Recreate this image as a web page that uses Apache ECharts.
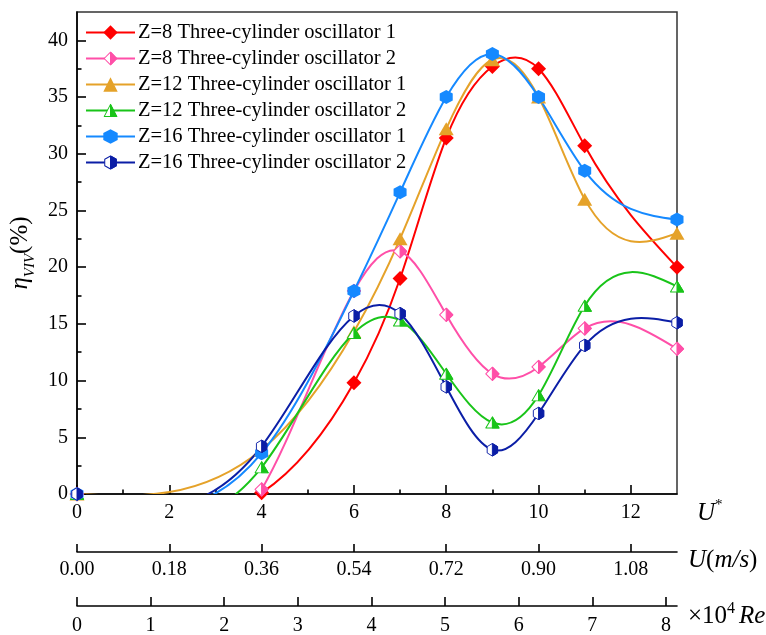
<!DOCTYPE html>
<html>
<head>
<meta charset="utf-8">
<script src="https://cdn.jsdelivr.net/npm/echarts@6/dist/echarts.min.js"></script>
<style>
html,body{margin:0;padding:0;background:#fff;}
#chart{width:766px;height:635px;}
</style>
</head>
<body>
<div id="chart"></div>
<script>
// ---- data ----
const uStar = [0, 4, 6, 7, 8, 9, 10, 11, 13];
const z8Osc1  = [0, 0.1, 9.8, 19.0, 31.4, 37.7, 37.5, 30.7, 20.0];
const z8Osc2  = [0, 0.4, 17.9, 21.4, 15.8, 10.6, 11.2, 14.6, 12.8];
const z12Osc1 = [0, 3.9, 14.3, 22.5, 32.2, 38.3, 35.0, 26.0, 23.0];
const z12Osc2 = [0, 2.35, 14.2, 15.3, 10.6, 6.3, 8.7, 16.6, 18.3];
const z16Osc1 = [0, 3.6, 17.9, 26.6, 35.0, 38.8, 35.0, 28.5, 24.2];
const z16Osc2 = [0, 4.2, 15.7, 15.9, 9.45, 3.9, 7.1, 13.1, 15.1];
const seriesNames = [
  'Z=8 Three-cylinder oscillator 1',
  'Z=8 Three-cylinder oscillator 2',
  'Z=12 Three-cylinder oscillator 1',
  'Z=12 Three-cylinder oscillator 2',
  'Z=16 Three-cylinder oscillator 1',
  'Z=16 Three-cylinder oscillator 2'
];
// ---- ticks ----
const uStarTicks = [0, 2, 4, 6, 8, 10, 12];
const uStarMinor = [1, 3, 5, 7, 9, 11];
const uTicks = [0, 0.18, 0.36, 0.54, 0.72, 0.90, 1.08];
const reTicks = [0, 1, 2, 3, 4, 5, 6, 7, 8];
const yTicks = [0, 5, 10, 15, 20, 25, 30, 35, 40];
const yMinor = [2.5, 7.5, 12.5, 17.5, 22.5, 27.5, 32.5, 37.5];

const FONT = '"Liberation Serif","Times New Roman",serif';
const colors = ['#FF0000', '#FF4FA8', '#E5A229', '#19C419', '#1589FF', '#0B1EA6'];

function svgSym(outer, half, c) {
  const svg = "<svg xmlns='http://www.w3.org/2000/svg' width='40' height='40' viewBox='0 0 20 20' preserveAspectRatio='none'>" +
    "<path d='" + outer + "' fill='white' stroke='" + c + "' stroke-width='1.4' stroke-linejoin='round'/>" +
    "<path d='" + half + "' fill='" + c + "' stroke='" + c + "' stroke-width='1.4' stroke-linejoin='round'/></svg>";
  return 'image://data:image/svg+xml;charset=utf-8,' + encodeURIComponent(svg);
}
const diamondO = 'M10 1.2 L18.8 10 L10 18.8 L1.2 10 Z', diamondH = 'M10 1.2 L18.8 10 L10 18.8 Z';
const triO = 'M10 1.5 L18.8 18.5 L1.2 18.5 Z', triH = 'M10 1.5 L18.8 18.5 L10 18.5 Z';
const hexO = 'M10 1 L18 5.5 L18 14.5 L10 19 L2 14.5 L2 5.5 Z', hexH = 'M10 1 L18 5.5 L18 14.5 L10 19 Z';

const symbols = [
  'diamond',
  svgSym(diamondO, diamondH, colors[1]),
  'triangle',
  svgSym(triO, triH, colors[3]),
  'path://' + hexO,
  svgSym(hexO, hexH, colors[5])
];
const symSizes = [[15, 15], [15, 15], [15, 13], [15, 13], [13, 14], [13, 14]];
const values = [z8Osc1, z8Osc2, z12Osc1, z12Osc2, z16Osc1, z16Osc2];

// natural cubic spline: second derivatives at knots (used only to shape the connecting curve)
function splineSecondDerivs(xs, ys) {
  const n = xs.length, h = [], M = new Array(n).fill(0);
  for (let i = 0; i < n - 1; i++) h.push(xs[i + 1] - xs[i]);
  const a = [], b = [], c = [], d = [];
  for (let i = 1; i < n - 1; i++) {
    a.push(h[i - 1]); b.push(2 * (h[i - 1] + h[i])); c.push(h[i]);
    d.push(6 * ((ys[i + 1] - ys[i]) / h[i] - (ys[i] - ys[i - 1]) / h[i - 1]));
  }
  const m = b.length;
  for (let i = 1; i < m; i++) {
    const w = a[i] / b[i - 1];
    b[i] -= w * c[i - 1]; d[i] -= w * d[i - 1];
  }
  const sol = new Array(m);
  for (let i = m - 1; i >= 0; i--) sol[i] = (d[i] - (i < m - 1 ? c[i] * sol[i + 1] : 0)) / b[i];
  for (let i = 0; i < m; i++) M[i + 1] = sol[i];
  return { h, M };
}

function curvePath(api, xs, ys) {
  const { h, M } = splineSecondDerivs(xs, ys);
  const p0 = api.coord([xs[0], ys[0]]);
  let path = 'M' + p0[0] + ' ' + p0[1];
  for (let i = 0; i < xs.length - 1; i++) {
    const hi = h[i];
    const slope = (ys[i + 1] - ys[i]) / hi;
    const dL = slope - hi * (2 * M[i] + M[i + 1]) / 6;
    const dR = slope + hi * (M[i] + 2 * M[i + 1]) / 6;
    const c1 = api.coord([xs[i] + hi / 3, ys[i] + dL * hi / 3]);
    const c2 = api.coord([xs[i + 1] - hi / 3, ys[i + 1] - dR * hi / 3]);
    const e = api.coord([xs[i + 1], ys[i + 1]]);
    path += ' C' + c1[0] + ' ' + c1[1] + ' ' + c2[0] + ' ' + c2[1] + ' ' + e[0] + ' ' + e[1];
  }
  return path;
}

const curveSeries = values.map((vals, i) => ({
  name: seriesNames[i] + ' (curve)',
  type: 'custom',
  xAxisIndex: 0,
  yAxisIndex: 0,
  clip: true,
  z: 2,
  silent: true,
  data: uStar.map((x, k) => [x, vals[k]]),
  encode: { x: 0, y: 1 },
  renderItem: function (params, api) {
    if (params.dataIndex !== 0) return null;
    return {
      type: 'path',
      shape: { pathData: curvePath(api, uStar, vals) },
      style: { stroke: colors[i], lineWidth: 2, fill: null }
    };
  }
}));

const markerSeries = values.map((vals, i) => ({
  name: seriesNames[i],
  type: 'line',
  xAxisIndex: 0,
  yAxisIndex: 0,
  z: 3 + i * 0.01,
  data: uStar.map((x, k) => [x, vals[k]]),
  symbol: symbols[i],
  symbolSize: symSizes[i],
  showAllSymbol: true,
  clip: true,
  lineStyle: { color: colors[i], width: 2, opacity: 0 },
  itemStyle: { color: colors[i], borderWidth: 0 },
  emphasis: { disabled: true }
}));

const axisLineStyle = { color: '#000', width: 1.6 };
const labelStyle = { color: '#000', fontFamily: FONT, fontSize: 20 };

const chart = echarts.init(document.getElementById('chart'), null, { renderer: 'canvas' });
chart.setOption({
  animation: false,
  backgroundColor: '#fff',
  grid: {
    left: 77, top: 12, right: 89, bottom: 141,
    show: true, borderColor: '#333', borderWidth: 1.5,
    containLabel: false, outerBoundsMode: 'none'
  },
  legend: {
    orient: 'vertical',
    left: 85, top: 22,
    padding: 0,
    itemWidth: 49, itemHeight: 18, itemGap: 5,
    textStyle: { color: '#000', fontFamily: FONT, fontSize: 20.5, lineHeight: 20, padding: [0, 0, 0, -2] },
    data: seriesNames.map((n, i) => ({ name: n, lineStyle: { color: colors[i], width: 2, opacity: 1 } }))
  },
  xAxis: [
    {
      type: 'value', min: 0, max: 13, position: 'bottom',
      axisLine: { show: true, onZero: false, lineStyle: axisLineStyle },
      axisTick: { show: true, inside: true, length: 9, lineStyle: axisLineStyle, customValues: uStarTicks },
      axisLabel: { ...labelStyle, margin: 9, customValues: uStarTicks },
      splitLine: { show: false },
      name: '{i|U}{sup|*}',
      nameLocation: 'end', nameGap: 20,
      nameTextStyle: {
        padding: [38, 0, 0, 0],
        rich: {
          i: { fontFamily: FONT, fontStyle: 'italic', fontSize: 25, lineHeight: 30, color: '#000' },
          sup: { fontFamily: FONT, fontSize: 15, lineHeight: 15, verticalAlign: 'top', color: '#000' }
        }
      }
    },
    {
      type: 'value', min: 0, max: 13, position: 'bottom',
      axisLine: { show: false },
      axisTick: { show: true, inside: true, length: 4.5, lineStyle: axisLineStyle, customValues: uStarMinor },
      axisLabel: { show: false },
      splitLine: { show: false }
    },
    {
      type: 'value', min: 0, max: 1.17, position: 'bottom', offset: 58,
      axisLine: { show: true, onZero: false, lineStyle: axisLineStyle },
      axisTick: { show: true, inside: true, length: 8, lineStyle: axisLineStyle, customValues: uTicks },
      axisLabel: { ...labelStyle, margin: 8, customValues: uTicks, formatter: v => v.toFixed(2) },
      splitLine: { show: false },
      name: '{i|U}{n|(}{i|m/s}{n|)}',
      nameLocation: 'end', nameGap: 11,
      nameTextStyle: {
        padding: [16, 0, 0, 0],
        rich: {
          i: { fontFamily: FONT, fontStyle: 'italic', fontSize: 25, lineHeight: 30, color: '#000' },
          n: { fontFamily: FONT, fontSize: 25, lineHeight: 30, color: '#000' }
        }
      }
    },
    {
      type: 'value', min: 0, max: 8.15, position: 'bottom', offset: 112,
      axisLine: { show: true, onZero: false, lineStyle: axisLineStyle },
      axisTick: { show: true, inside: true, length: 9, lineStyle: axisLineStyle, customValues: reTicks },
      axisLabel: { ...labelStyle, margin: 10, customValues: reTicks },
      splitLine: { show: false },
      name: '{n|×10}{sup|4}{i|Re}',
      nameLocation: 'end', nameGap: 11,
      nameTextStyle: {
        padding: [20, 0, 0, 0],
        rich: {
          n: { fontFamily: FONT, fontSize: 25, lineHeight: 30, color: '#000' },
          sup: { fontFamily: FONT, fontSize: 16, lineHeight: 16, verticalAlign: 'top', color: '#000', padding: [0, 4, 0, 0] },
          i: { fontFamily: FONT, fontStyle: 'italic', fontSize: 25, lineHeight: 30, color: '#000' }
        }
      }
    }
  ],
  yAxis: [
    {
      type: 'value', min: 0, max: 42.5, position: 'left',
      axisLine: { show: true, onZero: false, lineStyle: axisLineStyle },
      axisTick: { show: true, inside: true, length: 9, lineStyle: axisLineStyle, customValues: yTicks },
      axisLabel: { ...labelStyle, margin: 9, customValues: yTicks },
      splitLine: { show: false },
      name: '{e|η}{s|VIV}{p|(%)}',
      nameLocation: 'middle', nameGap: 34, nameRotate: 90,
      nameTextStyle: {
        rich: {
          e: { fontFamily: FONT, fontStyle: 'italic', fontSize: 25, lineHeight: 34, color: '#000' },
          s: { fontFamily: FONT, fontStyle: 'italic', fontSize: 15, lineHeight: 15, verticalAlign: 'bottom', color: '#000' },
          p: { fontFamily: FONT, fontSize: 25, lineHeight: 34, color: '#000' }
        }
      }
    },
    {
      type: 'value', min: 0, max: 42.5, position: 'left',
      axisLine: { show: false },
      axisTick: { show: true, inside: true, length: 4.5, lineStyle: axisLineStyle, customValues: yMinor },
      axisLabel: { show: false },
      splitLine: { show: false }
    }
  ],
  series: curveSeries.concat(markerSeries)
});
</script>
</body>
</html>
